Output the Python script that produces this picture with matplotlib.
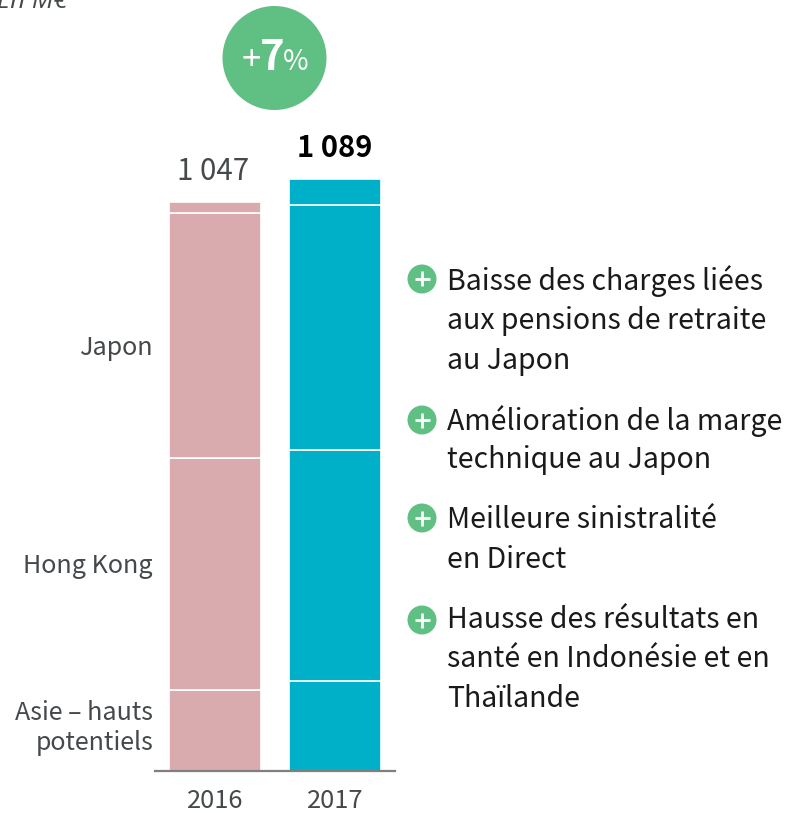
import matplotlib
matplotlib.use('Agg')
import matplotlib.pyplot as plt
from matplotlib.patches import Circle

# Values
years = ['2016', '2017']
asie = [149, 166]
hong_kong = [427, 425]
japon = [451, 450]
autres = [20, 48]
totals = ['1 047', '1 089']
bar_colors = ['#DAABAE', '#00B0C9']

segment_labels = [
    ('Japon', 355),
    ('Hong Kong', 573),
    ('Asie – hauts', 720),
    ('potentiels', 750),
]
comment_lines = [
    ('Baisse des charges liées', 290),
    ('aux pensions de retraite', 329),
    ('au Japon', 369),
    ('Amélioration de la marge', 430),
    ('technique au Japon', 468),
    ('Meilleure sinistralité', 528),
    ('en Direct', 568),
    ('Hausse des résultats en', 628),
    ('santé en Indonésie et en', 667),
    ('Thaïlande', 707),
]
plus_rows = [279, 420, 518, 620]

W, H = 787, 813
FONT = ['Noto Sans CJK JP', 'DejaVu Sans']
GREEN = '#60C084'
GREY = '#45494B'
plt.rcParams['font.family'] = FONT

fig = plt.figure(figsize=(W / 100, H / 100), dpi=100)

# Bars, 0.5435 px per unit
ax = fig.add_axes([155 / W, (H - 771) / H, 240 / W, 1100 * 0.5435 / H])
ax.set_xlim(-0.5, 1.5)
ax.set_ylim(0, 1100)
bottom = [0, 0]
for seg in [asie, hong_kong, japon, autres]:
    ax.bar([0, 1], seg, width=0.765, bottom=bottom, color=bar_colors,
           edgecolor='white', linewidth=1.2)
    bottom = [b + s for b, s in zip(bottom, seg)]
for side in ['top', 'left', 'right']:
    ax.spines[side].set_visible(False)
ax.spines['bottom'].set_color('#7F7F7F')
ax.spines['bottom'].set_linewidth(1.6)
ax.set_yticks([])
ax.set_xticks([0, 1])
ax.set_xticklabels(years, fontsize=18.4, color=GREY)
ax.tick_params(axis='x', length=0, pad=12)
ax.patch.set_alpha(0)

# Overlay in pixel coordinates for the annotations
ov = fig.add_axes([0, 0, 1, 1])
ov.set_xlim(0, W)
ov.set_ylim(H, 0)
ov.axis('off')
ov.patch.set_alpha(0)

ov.text(-3, 8, 'En M€', fontsize=18.5, style='italic', family='Open Sans', color=GREY, va='baseline')

ov.text(213.5, 180, totals[0], fontsize=21.2, color=GREY, ha='center', va='baseline')
ov.text(335, 157, totals[1], fontsize=21, fontweight='bold', color='black', ha='center', va='baseline')

for txt, y in segment_labels:
    ov.text(153, y, txt, fontsize=18.1, color=GREY, ha='right', va='baseline')

for txt, y in comment_lines:
    ov.text(447, y, txt, fontsize=20.5, color='#1A1A1A', ha='left', va='baseline')

for y in plus_rows:
    ov.add_patch(Circle((422, y), 14.5, color=GREEN, lw=0))
    ov.plot([414.5, 429.5], [y, y], color='white', lw=2, solid_capstyle='butt')
    ov.plot([422, 422], [y - 7.5, y + 7.5], color='white', lw=2, solid_capstyle='butt')

# Growth badge
ov.add_patch(Circle((274.5, 58), 52, color=GREEN, lw=0))
ov.text(251, 70, '+', fontsize=25, color='white', ha='center', va='baseline')
ov.text(272.5, 70, '7', fontsize=30, fontweight='bold', color='white', ha='center', va='baseline')
ov.text(295.5, 70, '%', fontsize=20, color='white', ha='center', va='baseline')

fig.savefig('out.png', dpi=100)
